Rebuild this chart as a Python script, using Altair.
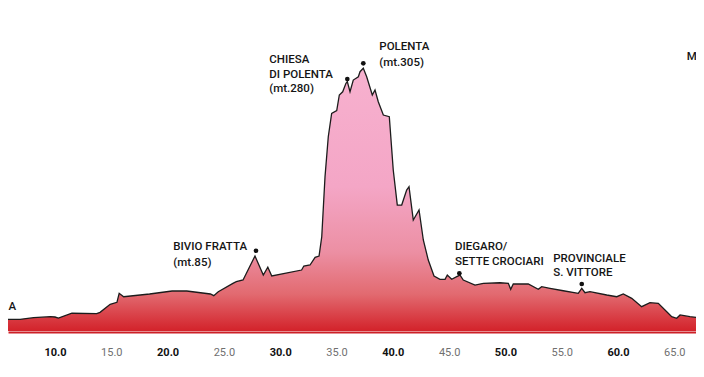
import altair as alt
import pandas as pd

# Elevation profile (km, metres)
km = [5.1, 6.9, 8.1, 9.6, 10.0, 10.3, 11.5, 13.7, 14.0, 14.9, 15.5, 15.7, 16.1, 18.4,
      20.4, 21.7, 23.8, 24.1, 24.5, 25.8, 26.1, 26.7, 27.76, 28.5, 28.9, 29.25, 31.9,
      32.1, 32.65, 33.1, 33.45, 33.69, 33.98, 34.27, 34.57, 35.02, 35.25, 35.55, 35.84,
      35.96, 36.2, 36.49, 36.94, 37.09, 37.38, 37.68, 38.18, 38.42, 38.71, 39.16, 39.69,
      40.04, 40.4, 40.79, 41.23, 41.44, 41.82, 42.33, 42.71, 43.15, 43.66, 44.19, 44.64,
      44.84, 45.23, 45.68, 45.97, 46.26, 47.3, 48.04, 49.52, 50.26, 50.47, 50.7, 52.03,
      52.92, 53.22, 53.96, 55.14, 56.47, 56.78, 57.07, 57.51, 59.0, 59.89, 60.47, 61.22,
      62.1, 62.84, 63.58, 64.33, 64.77, 65.21, 65.51, 66.39, 67.64]
elev = [13.7, 13.7, 15.6, 16.8, 16.4, 15.2, 20.8, 20.3, 21.9, 31.3, 33.6, 44.2, 40.2, 43.4,
        46.9, 46.9, 43.4, 41.4, 46.1, 55.9, 57.8, 59.8, 87.9, 65.6, 74.7, 64.5, 71.5,
        76.2, 77.4, 86.4, 87.9, 110.5, 180.9, 227.8, 255.2, 258.3, 276.7, 280.5, 290.4,
        292.3, 280.5, 294.2, 298.1, 304.0, 308.0, 298.1, 276.7, 282.5, 268.8, 253.2, 251.2,
        188.7, 147.7, 147.7, 165.3, 169.2, 130.1, 141.9, 106.7, 83.2, 64.5, 60.6, 60.6,
        65.6, 60.6, 63.7, 65.6, 59.8, 53.9, 55.9, 56.6, 55.9, 48.9, 55.1, 55.1,
        48.9, 52.0, 50.1, 47.2, 44.2, 50.1, 44.9, 46.1, 42.2, 40.2, 43.4, 38.3,
        28.5, 33.2, 32.5, 22.6, 16.8, 14.9, 18.8, 16.8, 14.9]

# Place labels
label_text = ["BIVIO FRATTA", "(mt.85)",
              "CHIESA", "DI POLENTA", "(mt.280)",
              "POLENTA", "(mt.305)",
              "DIEGARO/", "SETTE CROCIARI",
              "PROVINCIALE", "S. VITTORE",
              "M", "A"]
label_km = [20.51, 20.51, 29.03, 29.03, 29.03, 38.80, 38.80, 45.52, 45.52, 54.25, 54.25, 66.1, 5.88]
label_m = [98.8, 79.4, 317.3, 300.5, 283.3, 333.3, 314.5, 98.8, 80.5, 84.1, 67.6, 321.2, 27.8]

# Place markers
dot_km = [27.85, 35.96, 37.38, 45.91, 56.78]
dot_m = [94.1, 295.4, 313.8, 67.6, 55.1]

tick_values = [10, 15, 20, 25, 30, 35, 40, 45, 50, 55, 60, 65]

X_DOMAIN = [5.826, 66.927]
Y_DOMAIN = [-1.17, 378.7]

profile = pd.DataFrame({"km": km, "m": elev})
labels = pd.DataFrame({"km": label_km, "m": label_m, "t": label_text})
dots = pd.DataFrame({"km": dot_km, "m": dot_m})

xs = alt.Scale(domain=X_DOMAIN, nice=False, zero=False)
ys = alt.Scale(domain=Y_DOMAIN, nice=False, zero=False)

x_axis = alt.Axis(
    values=tick_values, format=".1f", title=None, grid=False, ticks=False,
    domain=True, domainColor="#cc1f26", domainWidth=2,
    labelPadding=14, labelFont="Roboto", labelFontSize=11,
    labelFontWeight={"condition": {"test": "datum.value % 10 === 0", "value": "bold"}, "value": "normal"},
    labelColor={"condition": {"test": "datum.value % 10 === 0", "value": "#111111"}, "value": "#707070"},
    labelFlush=False, labelOverlap=False,
)

X_ENC = alt.X("km:Q", scale=xs, axis=x_axis)
Y_ENC = alt.Y("m:Q", scale=ys, axis=None)

gradient = alt.Gradient(
    gradient="linear",
    stops=[
        alt.GradientStop(color="#f7b1cf", offset=0),
        alt.GradientStop(color="#f4a6c6", offset=0.45),
        alt.GradientStop(color="#ec8fa3", offset=0.7),
        alt.GradientStop(color="#e26a70", offset=0.86),
        alt.GradientStop(color="#d3222a", offset=1),
    ],
    x1=0, x2=0, y1=0, y2=1,
)

area = alt.Chart(profile).mark_area(color=gradient).encode(
    x=X_ENC, y=Y_ENC, y2=alt.datum(0),
)

line = alt.Chart(profile).mark_line(color="#1c1c1c", strokeWidth=1.3).encode(
    x=X_ENC, y=Y_ENC,
)

pts = alt.Chart(dots).mark_circle(color="#111111", opacity=1, size=22).encode(
    x=X_ENC, y=Y_ENC,
)

txt = alt.Chart(labels).mark_text(
    align="left", baseline="middle", font="Roboto", fontSize=11.5, fontWeight=500,
    color="#151515"
).encode(
    x=X_ENC, y=Y_ENC, text="t:N",
)

chart = alt.layer(area, line, pts, txt).properties(
    width=688, height=324,
    autosize=alt.AutoSizeParams(type="none"),
    padding={"left": 0, "top": 0, "right": 0, "bottom": 30},
    background="white",
).configure_view(stroke=None)

chart.save("out.html", embed_options={"renderer": "svg", "actions": False})
